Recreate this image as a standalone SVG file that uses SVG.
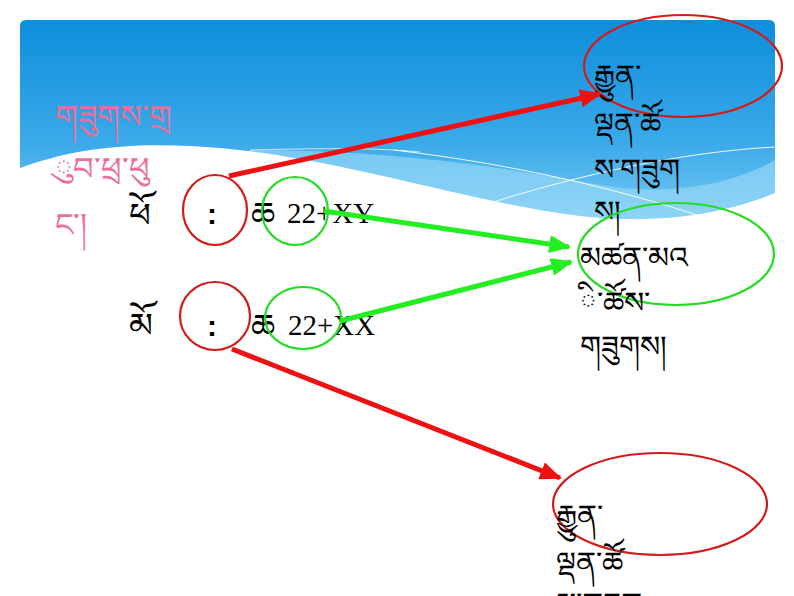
<svg xmlns="http://www.w3.org/2000/svg" width="794" height="596" viewBox="0 0 794 596">
<style>
.tb{font-family:"Noto Sans","DejaVu Sans",sans-serif;fill:#000;}
.pk{font-family:"Noto Sans","DejaVu Sans",sans-serif;fill:#ec6f97;font-size:32px;}
.tm{font-family:"Liberation Serif",serif;font-size:29px;fill:#000;}
.col{font-family:"Liberation Sans",sans-serif;font-size:30px;font-weight:bold;fill:#000;}
.rc{fill:none;stroke:#d21c1c;stroke-width:2.2;}
.gc{fill:none;stroke:#22dd22;stroke-width:2.2;}
.ra{stroke:#ee1111;stroke-width:5;fill:none;}
.ga{stroke:#22ee22;stroke-width:5;fill:none;}
</style>
<defs>
<linearGradient id="sky" x1="0" y1="0" x2="0" y2="1">
<stop offset="0" stop-color="#0d8edb"/>
<stop offset="0.55" stop-color="#3aa9e9"/>
<stop offset="1" stop-color="#86d0f6"/>
</linearGradient>
<marker id="mr" viewBox="0 0 10 10" refX="9" refY="5" markerWidth="4.4" markerHeight="3.6" orient="auto" markerUnits="strokeWidth" preserveAspectRatio="none">
<path d="M0,0 L10,5 L0,10 Z" fill="#ee1111"/>
</marker>
<marker id="mg" viewBox="0 0 10 10" refX="9" refY="5" markerWidth="4.4" markerHeight="3.6" orient="auto" markerUnits="strokeWidth" preserveAspectRatio="none">
<path d="M0,0 L10,5 L0,10 Z" fill="#22ee22"/>
</marker>
</defs>
<rect width="794" height="596" fill="#fff"/>
<g id="background">
<path d="M26,20 H769 Q775,20 775,26 V240 H20 V26 Q20,20 26,20 Z" fill="url(#sky)"/>
<path d="M250,150 C400,150 520,170 600,185 C680,198 740,180 775,160 V240 H250 Z" fill="#9fdcf9" opacity="0.6"/>
<path d="M20,168 C70,150 120,143 190,146 C330,152 480,208 600,218 C690,224 745,205 775,193 V245 H20 Z" fill="#fff"/>
<path d="M394,150 C520,165 620,190 700,216" stroke="#fff" stroke-width="1" fill="none" opacity="0.9"/>
<path d="M490,203 C580,175 680,152 775,147" stroke="#fff" stroke-width="1" fill="none" opacity="0.9"/>
<path d="M250,150 C330,148 380,148 420,152" stroke="#fff" stroke-width="1" fill="none" opacity="0.7"/>
</g>
<g id="title">
<text class="pk" x="55" y="128">གཟུགས་གྲ</text>
<text class="pk" x="55" y="180">ུབ་ཕྲ་ཕུ</text>
<text class="pk" x="55" y="236">ང་།</text>
</g>
<g id="row-male">
<text class="tb" x="129" y="227" font-size="34">ཕོ</text>
<ellipse class="rc" cx="215" cy="210" rx="32" ry="35"/>
<text class="col" x="207" y="224">:</text>
<text class="tb" x="251" y="226" font-size="34">ཆ</text>
<text class="tm" x="287" y="223">22+XY</text>
<ellipse class="gc" cx="295" cy="211" rx="33" ry="34"/>
</g>
<g id="row-female">
<text class="tb" x="129" y="337" font-size="34">མོ</text>
<ellipse class="rc" cx="215" cy="316" rx="35" ry="34"/>
<text class="col" x="207" y="336">:</text>
<text class="tb" x="251" y="338" font-size="34">ཆ</text>
<text class="tm" x="288" y="335">22+XX</text>
<ellipse class="gc" cx="303" cy="318" rx="38" ry="31"/>
</g>
<g id="autosome-top">
<ellipse class="rc" cx="683" cy="66" rx="99" ry="51"/>
<text class="tb" x="594" font-size="30"><tspan x="594" y="86">རྒྱུན་</tspan><tspan x="594" y="134">ལྡན་ཚོ</tspan><tspan x="594" y="180">ས་གཟུག</tspan><tspan x="594" y="222">ས།</tspan></text>
</g>
<g id="sex-chromosome">
<ellipse class="gc" cx="676" cy="254" rx="98" ry="51"/>
<text class="tb" x="580" font-size="30"><tspan x="580" y="268">མཚན་མའ</tspan><tspan x="580" y="313">ི་ཚོས་</tspan><tspan x="580" y="357">གཟུགས།</tspan></text>
</g>
<g id="autosome-bottom">
<ellipse class="rc" cx="660" cy="504" rx="107" ry="51"/>
<text class="tb" x="556" font-size="30"><tspan x="556" y="526">རྒྱུན་</tspan><tspan x="556" y="573">ལྡན་ཚོ</tspan><tspan x="556" y="614">ས་གཟུག</tspan></text>
</g>
<g id="connectors">
<line class="ra" x1="229" y1="176" x2="600" y2="94" marker-end="url(#mr)"/>
<line class="ra" x1="232" y1="349" x2="560" y2="478" marker-end="url(#mr)"/>
<line class="ga" x1="324" y1="211" x2="569" y2="247" marker-end="url(#mg)"/>
<line class="ga" x1="340" y1="321" x2="571" y2="262" marker-end="url(#mg)"/>
</g>
</svg>
